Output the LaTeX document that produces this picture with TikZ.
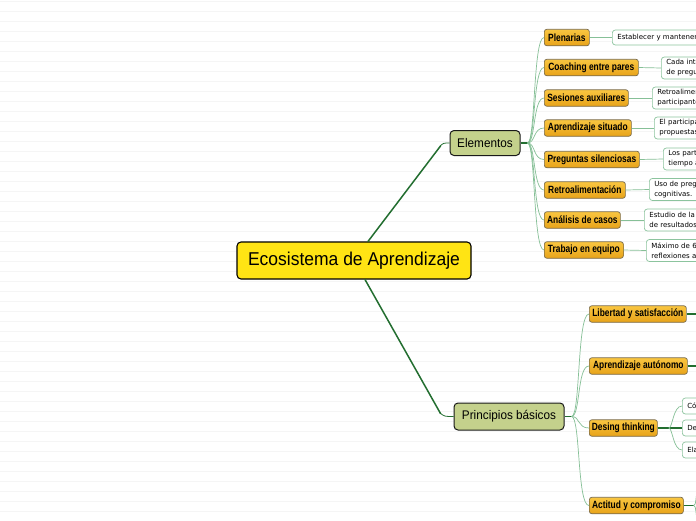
\documentclass[tikz,border=0pt]{standalone}
\usepackage{fontspec}
\setmainfont{Liberation Sans}
\newfontfamily\hfont{Liberation Sans}[FakeStretch=0.94]
\newfontfamily\cfont{Liberation Sans}[FakeStretch=0.80]
\newfontfamily\tfont{DejaVu Sans}
\usetikzlibrary{calc}
\definecolor{yel}{HTML}{FFE414}
\definecolor{gbox}{HTML}{C4D18C}
\definecolor{otop}{HTML}{F9C640}
\definecolor{obot}{HTML}{E8A31A}
\definecolor{obord}{HTML}{7A6C4C}
\definecolor{nbord}{HTML}{8CC49E}
\definecolor{dgreen}{HTML}{236E30}
\definecolor{lgreen}{HTML}{86C097}
\definecolor{bgl}{HTML}{F5F5F5}
\tikzset{
  rootbox/.style={draw=black, line width=1.1pt, fill=yel, rounded corners=4pt,
    minimum width=234pt, minimum height=37pt, inner sep=0pt,
    font=\hfont\fontsize{18.6}{22}\selectfont},
  mainbox/.style={draw=black!90, line width=1pt, fill=gbox, rounded corners=4pt,
    inner sep=0pt, font=\hfont\fontsize{12.5}{14}\selectfont},
  subbox/.style={draw=obord, line width=.7pt, top color=otop, bottom color=obot,
    rounded corners=2.5pt, inner sep=0pt, minimum height=16.5pt, anchor=west,
    font=\cfont\bfseries\fontsize{10.5}{12}\selectfont},
  notebox/.style={draw=nbord, line width=.7pt, fill=white, rounded corners=3pt,
    anchor=west, inner xsep=5pt, inner ysep=0pt, align=left, text width=100pt,
    minimum height=22pt, font=\tfont\fontsize{7}{10}\selectfont},
  trunk/.style={draw=dgreen, line width=1.5pt, line cap=round},
  twig/.style={draw=lgreen, line width=.7pt},
  stub/.style={draw=dgreen, line width=1.3pt},
  bgline/.style={draw=bgl, line width=.8pt}
}
\begin{document}
\begin{tikzpicture}[x=1pt,y=-1pt]
\useasboundingbox (0,0) rectangle (696,520);
\clip (0,0) rectangle (696,520);
\fill[white] (0,0) rectangle (696,520);
\foreach \yy in {1,11,...,520} \draw[bgline] (0,\yy) -- (696,\yy);

% nodes
\node[rootbox] (C) at (354,260.5) {Ecosistema de Aprendizaje};
\node[mainbox, minimum width=70pt, minimum height=25pt] (E) at (485,143) {Elementos};
\node[mainbox, minimum width=110pt, minimum height=27pt] (P) at (509,416.5) {Principios básicos};

\node[subbox, minimum width=45pt] (e1) at (544,37.5) {Plenarias};
\node[subbox, minimum width=94pt] (e2) at (544,67.5) {Coaching entre pares};
\node[subbox, minimum width=84pt] (e3) at (544,98) {Sesiones auxiliares};
\node[subbox, minimum width=87pt] (e4) at (544,128) {Aprendizaje situado};
\node[subbox, minimum width=95pt] (e5) at (544,159.5) {Preguntas silenciosas};
\node[subbox, minimum width=81pt] (e6) at (544,190) {Retroalimentación};
\node[subbox, minimum width=76pt] (e7) at (544,220) {Análisis de casos};
\node[subbox, minimum width=79pt] (e8) at (544,250) {Trabajo en equipo};

\node[notebox, minimum height=15pt] (t1) at (612,37.5) {Establecer y mantener};
\node[notebox] (t2) at (661,68) {Cada inte\\de pregu};
\node[notebox] (t3) at (652,98) {Retroalimen\\participante};
\node[notebox] (t4) at (654,128) {El participa\\propuestas};
\node[notebox] (t5) at (663,159) {Los part\\tiempo a};
\node[notebox] (t6) at (649,189.5) {Uso de preg\\cognitivas.};
\node[notebox] (t7) at (644,220) {Estudio de la\\de resultados};
\node[notebox] (t8) at (646,250.5) {Máximo de 6\\reflexiones a};

\node[subbox, minimum width=97pt] (p1) at (589,314) {Libertad y satisfacción};
\node[subbox, minimum width=98pt] (p2) at (589,366) {Aprendizaje autónomo};
\node[subbox, minimum width=68pt] (p3) at (589,428) {Desing thinking};
\node[subbox, minimum width=94pt] (p4) at (589,505.5) {Actitud y compromiso};

\node[notebox, minimum height=16pt] (d1) at (682,406) {Cóm};
\node[notebox, minimum height=16pt] (d2) at (682,428) {Des};
\node[notebox, minimum height=16pt] (d3) at (682,450) {Ela};

% connectors
\coordinate (cE) at ($(C.north)+(14,0)$);
\coordinate (cP) at ($(C.south)+(11,0)$);
\path[trunk] (cE) -- ($(E.west)+(-9,3)$);
\path[draw=dgreen, line width=.8pt] ($(E.west)+(-9.5,3)$) .. controls ($(E.west)+(-6,0)$) .. (E.west);
\path[trunk] (cP) -- ($(P.west)+(-13,-3)$);
\path[draw=dgreen, line width=.8pt] ($(P.west)+(-13.5,-3.5)$) .. controls ($(P.west)+(-9,0)$) .. (P.west);

\coordinate (bE) at ($(E.east)+(7,0)$);
\draw[stub] (E.east) -- (bE);
\foreach \n in {e1,e2,e3,e4,e5,e6,e7,e8}
  \draw[twig] (bE) .. controls ($(bE)+(8,0)$) and ($(\n.west)+(-11,0)$) .. (\n.west);
\foreach \n/\m in {e1/t1,e2/t2,e3/t3,e4/t4,e5/t5,e6/t6,e7/t7,e8/t8}
  \draw[twig] (\n.east) -- (\m.west);

\coordinate (bP) at ($(P.east)+(7,0)$);
\draw[stub] (P.east) -- (bP);
\foreach \n in {p1,p2,p3,p4}
  \draw[twig] (bP) .. controls ($(bP)+(9,0)$) and ($(\n.west)+(-12,0)$) .. (\n.west);

\coordinate (r1) at (700,314);
\coordinate (r2) at (700,366);
\draw[stub] (p1.east) -- (r1);
\draw[stub] (p2.east) -- (r2);

\coordinate (bD) at ($(p3.east)+(11,0)$);
\draw[stub] (p3.east) -- (d2.west);
\draw[twig] (bD) .. controls ($(bD)+(4,0)$) and ($(d1.west)+(-9,0)$) .. (d1.west);
\draw[twig] (bD) .. controls ($(bD)+(4,0)$) and ($(d3.west)+(-9,0)$) .. (d3.west);

\coordinate (bA) at ($(p4.east)+(10,0)$);
\coordinate (a1) at (698,490);
\coordinate (a2) at (698,521);
\draw[stub] (p4.east) -- (bA);
\draw[twig] (bA) .. controls ($(bA)+(3,0)$) and ($(a1)+(-3,6)$) .. (a1);
\draw[twig] (bA) .. controls ($(bA)+(3,0)$) and ($(a2)+(-3,-6)$) .. (a2);
\end{tikzpicture}
\end{document}
